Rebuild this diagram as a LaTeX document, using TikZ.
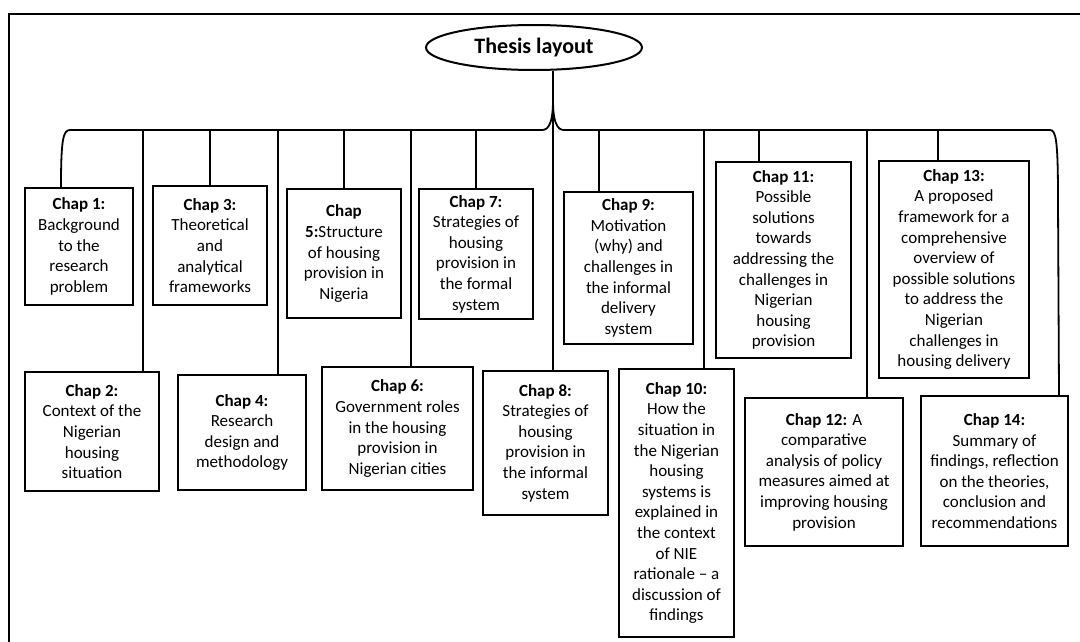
\documentclass[tikz,border=0pt]{standalone}
\usepackage{fontspec}
\setmainfont{Carlito}
\usepackage{tikz}
\usetikzlibrary{shapes.geometric}

\begin{document}
\begin{tikzpicture}[x=1pt, y=-1pt,
    chap/.style={draw, line width=2pt, align=center, inner sep=2pt,
                 font=\fontsize{17}{20.6}\selectfont},
    thesis/.style={draw, ellipse, line width=2pt, inner sep=0pt,
                   font=\bfseries\fontsize{22}{26}\selectfont},
    link/.style={line width=1.8pt},
    outer/.style={line width=2.6pt}]

  \useasboundingbox (0,0) rectangle (1080,642);

  % ── Frame ────────────────────────────────────────────────────
  \draw[outer] (9,642) -- (9,14) -- (1080,14);

  % ── Row 0: Root ──────────────────────────────────────────────
  \node[thesis, minimum width=216, minimum height=45] (root) at (534,47.5) {Thesis layout};

  % ── Row 1: Upper chapters ────────────────────────────────────
  \node[chap, minimum width=108, minimum height=117] (c1)  at (79,246.5)
    {\textbf{Chap 1:}\\Background\\to the\\research\\problem};
  \node[chap, minimum width=114, minimum height=119] (c3)  at (210,245.5)
    {\textbf{Chap 3:}\\Theoretical\\and\\analytical\\frameworks};
  \node[chap, minimum width=114, minimum height=129] (c5)  at (344,253.5)
    {\textbf{Chap}\\\textbf{5:}Structure\\of housing\\provision in\\Nigeria};
  \node[chap, minimum width=114, minimum height=130] (c7)  at (476,254)
    {\textbf{Chap 7:}\\Strategies of\\housing\\provision in\\the formal\\system};
  \node[chap, minimum width=129, minimum height=152] (c9)  at (628.5,268)
    {\textbf{Chap 9:}\\Motivation\\(why) and\\challenges in\\the informal\\delivery\\system};
  \node[chap, minimum width=135, minimum height=196] (c11) at (783.5,260)
    {\textbf{Chap 11:}\\Possible\\solutions\\towards\\addressing the\\challenges in\\Nigerian\\housing\\provision};
  \node[chap, minimum width=150, minimum height=217] (c13) at (954,269.5)
    {\textbf{Chap 13:}\\A proposed\\framework for a\\comprehensive\\overview of\\possible solutions\\to address the\\Nigerian\\challenges in\\housing delivery};

  % ── Row 2: Lower chapters ────────────────────────────────────
  \node[chap, minimum width=134, minimum height=119] (c2)  at (92,431.5)
    {\textbf{Chap 2:}\\Context of the\\Nigerian\\housing\\situation};
  \node[chap, minimum width=128, minimum height=115] (c4)  at (242,432.5)
    {\textbf{Chap 4:}\\Research\\design and\\methodology};
  \node[chap, minimum width=151, minimum height=123] (c6)  at (397.5,428.5)
    {\textbf{Chap 6:}\\Government roles\\in the housing\\provision in\\Nigerian cities};
  \node[chap, minimum width=125, minimum height=144] (c8)  at (545.5,443)
    {\textbf{Chap 8:}\\Strategies of\\housing\\provision in\\the informal\\system};
  \node[chap, minimum width=115, minimum height=268] (c10) at (676.5,503)
    {\textbf{Chap 10:}\\How the\\situation in\\the Nigerian\\housing\\systems is\\explained in\\the context\\of NIE\\rationale -- a\\discussion of\\findings};
  \node[chap, minimum width=158, minimum height=148] (c12) at (824,472)
    {\textbf{Chap 12:} A\\comparative\\analysis of policy\\measures aimed at\\improving housing\\provision};
  \node[chap, minimum width=147, minimum height=150] (c14) at (994.5,471)
    {\textbf{Chap 14:}\\Summary of\\findings, reflection\\on the theories,\\conclusion and\\recommendations};

  % ── Bus and junction ─────────────────────────────────────────
  \coordinate (fork)  at ([xshift=19]root.south |- 0,100);
  \coordinate (busL)  at (70,130);
  \coordinate (busR)  at (1050,130);

  \draw[link] ([xshift=19]root.south) -- (fork);
  \draw[link] (fork) .. controls (553,122) and (549,130) .. (542,130) -- (busL)
              .. controls (63,130) and (61,140) .. ([xshift=-18]c1.north);
  \draw[link] (fork) .. controls (553,122) and (557,130) .. (564,130) -- (busR)
              .. controls (1056,130) and (1058,140) .. (1058,200)
              -- ([xshift=64.5]c14.north);

  % ── Drops to upper chapters ──────────────────────────────────
  \draw[link] (c3.north)                  -- (c3.north |- busL);
  \draw[link] (c5.north)                  -- (c5.north |- busL);
  \draw[link] (c7.north)                  -- (c7.north |- busL);
  \draw[link] ([xshift=-29.5]c9.north)    -- ([xshift=-29.5]c9.north |- busL);
  \draw[link] ([xshift=-24.5]c11.north)   -- ([xshift=-24.5]c11.north |- busL);
  \draw[link] ([xshift=-16]c13.north)     -- ([xshift=-16]c13.north |- busL);

  % ── Drops to lower chapters ──────────────────────────────────
  \draw[link] ([xshift=51]c2.north)       -- ([xshift=51]c2.north |- busL);
  \draw[link] ([xshift=36]c4.north)       -- ([xshift=36]c4.north |- busL);
  \draw[link] ([xshift=13.5]c6.north)     -- ([xshift=13.5]c6.north |- busL);
  \draw[link] ([xshift=7.5]c8.north)      -- (fork);
  \draw[link] ([xshift=27.5]c10.north)    -- ([xshift=27.5]c10.north |- busL);
  \draw[link] ([xshift=43]c12.north)      -- ([xshift=43]c12.north |- busL);

\end{tikzpicture}
\end{document}
